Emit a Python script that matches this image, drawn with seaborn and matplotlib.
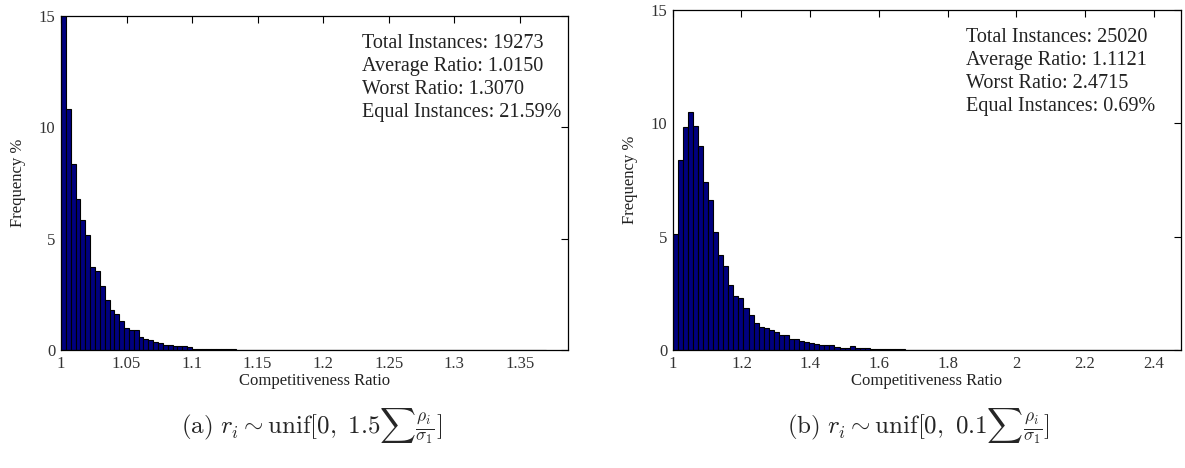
import numpy as np
import pandas as pd
import matplotlib
matplotlib.use("Agg")
import matplotlib.pyplot as plt
import seaborn as sns

# bin heights (% of instances), 100 bins from 1 to the max ratio
left_start, left_width = 1.0, 0.0037
left_freq = [24.0, 10.8, 8.36, 6.76, 5.83, 5.16, 3.74, 3.54, 2.88, 2.26,
             1.81, 1.64, 1.29, 0.97, 0.88, 0.88, 0.60, 0.49, 0.45, 0.37,
             0.30, 0.21, 0.21, 0.19, 0.16, 0.16, 0.15, 0.07, 0.07, 0.07,
             0.05, 0.05, 0.04, 0.05, 0.03, 0.03, 0.02, 0.02, 0.02, 0.02,
             0.01, 0.02, 0.01, 0.01, 0.01, 0.01, 0.01, 0.02, 0.0, 0.01,
             0.0, 0.0, 0.0, 0.01, 0.02, 0.0, 0.0, 0.0, 0.0, 0.02,
             0.0, 0.0, 0.0, 0.0, 0.0, 0.0, 0.0, 0.0, 0.0, 0.0,
             0.0, 0.0, 0.0, 0.0, 0.0, 0.0, 0.0, 0.0, 0.0, 0.0,
             0.0, 0.0, 0.02, 0.02, 0.0, 0.0, 0.0, 0.0, 0.0, 0.0,
             0.0, 0.0, 0.0, 0.0, 0.0, 0.0, 0.0, 0.0, 0.0, 0.0]

right_start, right_width = 1.0, 0.014715
right_freq = [5.10, 8.37, 9.84, 10.5, 9.88, 9.0, 7.4, 6.63, 5.22, 4.19,
              3.71, 2.87, 2.38, 2.28, 1.84, 1.53, 1.21, 1.03, 0.97, 0.88,
              0.79, 0.65, 0.65, 0.50, 0.47, 0.41, 0.34, 0.32, 0.28, 0.22,
              0.22, 0.21, 0.15, 0.10, 0.10, 0.18, 0.10, 0.10, 0.08, 0.06,
              0.05, 0.05, 0.04, 0.04, 0.03, 0.03, 0.02, 0.02, 0.02, 0.02,
              0.02, 0.01, 0.01, 0.01, 0.01, 0.01, 0.01, 0.01, 0.0, 0.01,
              0.0, 0.0, 0.0, 0.0, 0.0, 0.01, 0.0, 0.02, 0.0, 0.0,
              0.0, 0.01, 0.0, 0.01, 0.0, 0.0, 0.0, 0.0, 0.0, 0.0,
              0.0, 0.0, 0.0, 0.0, 0.0, 0.0, 0.0, 0.0, 0.0, 0.0,
              0.0, 0.0, 0.0, 0.0, 0.0, 0.0, 0.0, 0.0, 0.0, 0.01]

left_stats = ["Total Instances: 19273", "Average Ratio: 1.0150",
              "Worst Ratio: 1.3070", "Equal Instances: 21.59%"]
right_stats = ["Total Instances: 25020", "Average Ratio: 1.1121",
               "Worst Ratio: 2.4715", "Equal Instances: 0.69%"]

left_ticks = [1, 1.05, 1.1, 1.15, 1.2, 1.25, 1.3, 1.35]
left_ticklabels = ["1", "1.05", "1.1", "1.15", "1.2", "1.25", "1.3", "1.35"]
right_ticks = [1, 1.2, 1.4, 1.6, 1.8, 2, 2.2, 2.4]
right_ticklabels = ["1", "1.2", "1.4", "1.6", "1.8", "2", "2.2", "2.4"]

captions = [r"$\mathrm{(a)}\ r_i \sim \mathrm{unif}[0,\ 1.5\sum\frac{\rho_i}{\sigma_1}]$",
            r"$\mathrm{(b)}\ r_i \sim \mathrm{unif}[0,\ 0.1\sum\frac{\rho_i}{\sigma_1}]$"]

sns.set_style("white")
plt.rcParams['font.family'] = ['Liberation Serif', 'DejaVu Serif']
plt.rcParams['mathtext.fontset'] = 'cm'

fig = plt.figure(figsize=(11.85, 4.68), dpi=100)
ax1 = fig.add_axes([0.0515, 0.252, 0.428, 0.714])
ax2 = fig.add_axes([0.5677, 0.252, 0.429, 0.7265])


def draw_panel(ax, start, width, freq, xmax, ticks, ticklabels, stats, text_x, text_y):
    n = len(freq)
    df = pd.DataFrame({"ratio": start + width * (np.arange(n) + 0.5),
                       "freq": freq})
    sns.histplot(data=df, x="ratio", weights="freq", bins=n,
                 binrange=(start, start + n * width), ax=ax,
                 color="#00007f", alpha=1, edgecolor="black", linewidth=0.8)
    ax.set_xlim(1, xmax)
    ax.set_ylim(0, 15)
    ax.set_xticks(ticks)
    ax.set_xticklabels(ticklabels)
    ax.set_yticks([0, 5, 10, 15])
    ax.tick_params(direction="in", top=True, right=True, length=5,
                   labelsize=12, color="black", pad=4)
    ax.tick_params(axis="x", labelcolor="#333333")
    ax.tick_params(axis="y", labelcolor="#333333")
    for s in ax.spines.values():
        s.set_color("black")
        s.set_linewidth(0.9)
    ax.set_xlabel("Competitiveness Ratio", fontsize=12, labelpad=1, color="#222222")
    ax.set_ylabel("Frequency %", fontsize=12, labelpad=9, color="#222222")
    ax.text(text_x, text_y, "\n".join(stats), transform=ax.transAxes,
            fontsize=14.5, va="top", ha="left", linespacing=1.28, color="#222222")


draw_panel(ax1, left_start, left_width, left_freq, 1.387, left_ticks,
           left_ticklabels, left_stats, 0.594, 0.945)
draw_panel(ax2, right_start, right_width, right_freq, 2.48, right_ticks,
           right_ticklabels, right_stats, 0.577, 0.948)

fig.text(0.263, 0.088, captions[0], ha="center", va="center", fontsize=18)
fig.text(0.775, 0.088, captions[1], ha="center", va="center", fontsize=18)

fig.savefig("out.png", dpi=100)
